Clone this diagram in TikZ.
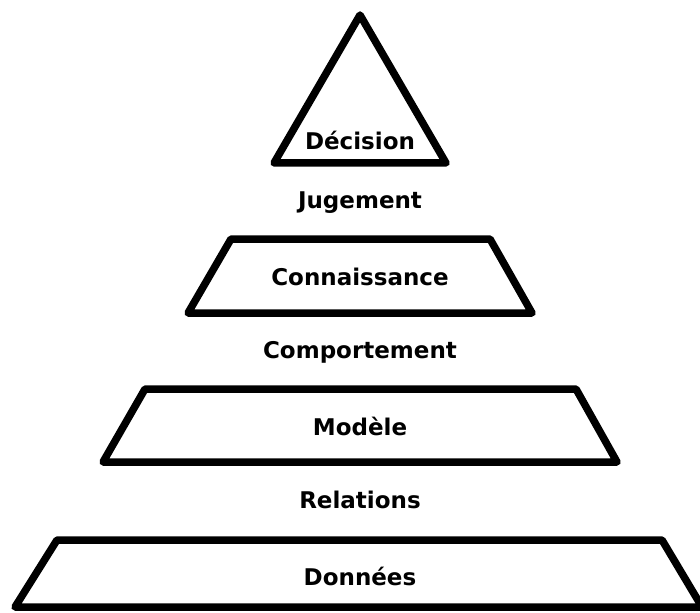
\documentclass[tikz,border=0pt]{standalone}
\usepackage{fontspec}
\setmainfont{DejaVu Sans}
\begin{document}
\begin{tikzpicture}[x=1pt,y=-1pt,
  level/.style={draw=black,line width=7.5pt,line join=round,fill=white},
  lbl/.style={font=\bfseries\fontsize{23}{27}\selectfont,inner sep=0pt,anchor=center}]
\useasboundingbox (0,0) rectangle (700,612);
\draw[level] (360,15) -- (446,163) -- (274,163) -- cycle;
\draw[level] (231,239) -- (490,239) -- (532,313) -- (188,313) -- cycle;
\draw[level] (145,389) -- (576,389) -- (617,462) -- (103,462) -- cycle;
\draw[level] (57,540) -- (662,540) -- (702,607) -- (15,607) -- cycle;
\node[lbl] (decision) at (360,140) {Décision};
\node[lbl] (jugement) at (360,203) {Jugement};
\node[lbl] (connaissance) at (360,277) {Connaissance};
\node[lbl] (comportement) at (360,352) {Comportement};
\node[lbl] (modele) at (360,426) {Modèle};
\node[lbl] (relations) at (360,500) {Relations};
\node[lbl] (donnees) at (360,576) {Données};
\end{tikzpicture}
\end{document}
